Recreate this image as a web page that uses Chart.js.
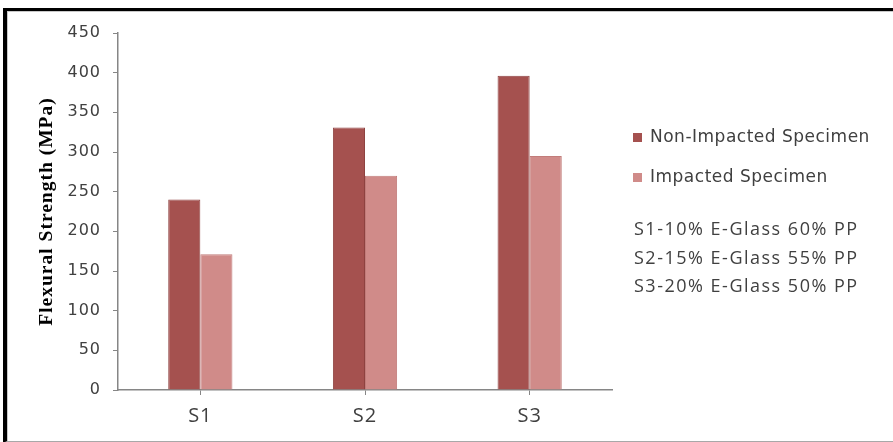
<!DOCTYPE html>
<html>
<head>
<meta charset="utf-8">
<script src="https://cdn.jsdelivr.net/npm/chart.js@4.4.1/dist/chart.umd.min.js"></script>
<style>
  html, body { margin: 0; padding: 0; background: #fff; }
  #wrap { position: relative; width: 893px; height: 442px; overflow: hidden; }
  #frame {
    position: absolute; left: 3px; top: 8px; width: 900px; height: 430px;
    border-top: 3px solid #000; border-left: 4px solid #000; border-bottom: 2px solid #a8a8a8;
    box-shadow: inset 1px 1px 0 #c8c8c8;
    pointer-events: none;
  }
  canvas { position: absolute; left: 0; top: 0; }
</style>
</head>
<body>
<div id="wrap">
  <canvas id="barChart" width="893" height="442"></canvas>
  <div id="frame"></div>
</div>
<script>
// samples and flexural strength readings (MPa)
const samples = ['S1', 'S2', 'S3'];
const nonImpacted = [240, 331, 396];
const impacted = [171, 270, 295];
const seriesNames = ['Non-Impacted Specimen', 'Impacted Specimen'];
const notes = [
    'S1-10% E-Glass 60% PP',
    'S2-15% E-Glass 55% PP',
    'S3-20% E-Glass 50% PP'
];

const textColor = '#404040';
const axisColor = '#868686';

// wider letter spacing for all text drawn on the canvas
const spacing = {
    id: 'spacing',
    beforeDraw(chart) {
        chart.ctx.letterSpacing = '1px';
    }
};

// legend on the right plus the composition notes below it
const sideLegend = {
    id: 'sideLegend',
    afterDraw(chart) {
        const ctx = chart.ctx;
        ctx.save();
        ctx.textBaseline = 'middle';
        ctx.textAlign = 'left';
        ctx.letterSpacing = '0.5px';
        ctx.font = '17px "DejaVu Sans"';
        chart.data.datasets.forEach((ds, i) => {
            const y = 138 + i * 40;
            ctx.fillStyle = ds.backgroundColor;
            ctx.fillRect(633, y - 5, 9, 9);
            ctx.fillStyle = textColor;
            ctx.fillText(ds.label, 650, y);
        });
        ctx.letterSpacing = '1.5px';
        ctx.font = '18px "Open Sans"';
        notes.forEach((line, i) => {
            ctx.fillText(line, 634, 230 + i * 28.5);
        });
        ctx.restore();
    }
};

const ctx = document.getElementById('barChart').getContext('2d');
new Chart(ctx, {
    type: 'bar',
    data: {
        labels: samples,
        datasets: [
            {
                label: seriesNames[0],
                data: nonImpacted,
                backgroundColor: '#A5514F',
                borderColor: '#8E4240',
                borderWidth: 1,
            },
            {
                label: seriesNames[1],
                data: impacted,
                backgroundColor: '#D08B89',
                borderColor: '#C27C7A',
                borderWidth: 1,
            },
        ],
    },
    options: {
        responsive: false,
        animation: false,
        layout: { padding: { left: 0, top: 33, right: 281, bottom: 0 } },
        datasets: {
            bar: { categoryPercentage: 0.39, barPercentage: 1 }
        },
        scales: {
            x: {
                grid: {
                    offset: false,
                    drawOnChartArea: false,
                    color: axisColor,
                    tickLength: 5,
                },
                border: { color: axisColor, width: 1.5 },
                ticks: {
                    color: textColor,
                    padding: 9,
                    font: { family: 'Open Sans', size: 20 },
                },
                afterFit(scale) { scale.height = 52; },
            },
            y: {
                min: 0,
                max: 450,
                grid: {
                    drawOnChartArea: false,
                    color: axisColor,
                    tickLength: 5,
                },
                border: { color: axisColor, width: 1.5 },
                ticks: {
                    stepSize: 50,
                    color: textColor,
                    padding: 12,
                    font: { family: 'DejaVu Sans', size: 16 },
                },
                title: {
                    display: true,
                    text: 'Flexural Strength (MPa)',
                    color: '#000',
                    padding: { top: 35, bottom: 0 },
                    font: { family: 'Liberation Serif', size: 19.5, weight: 'bold' },
                },
                afterFit(scale) { scale.width = 118; },
            },
        },
        plugins: {
            legend: { display: false },
            tooltip: { enabled: false },
        },
    },
    plugins: [spacing, sideLegend],
});
</script>
</body>
</html>
